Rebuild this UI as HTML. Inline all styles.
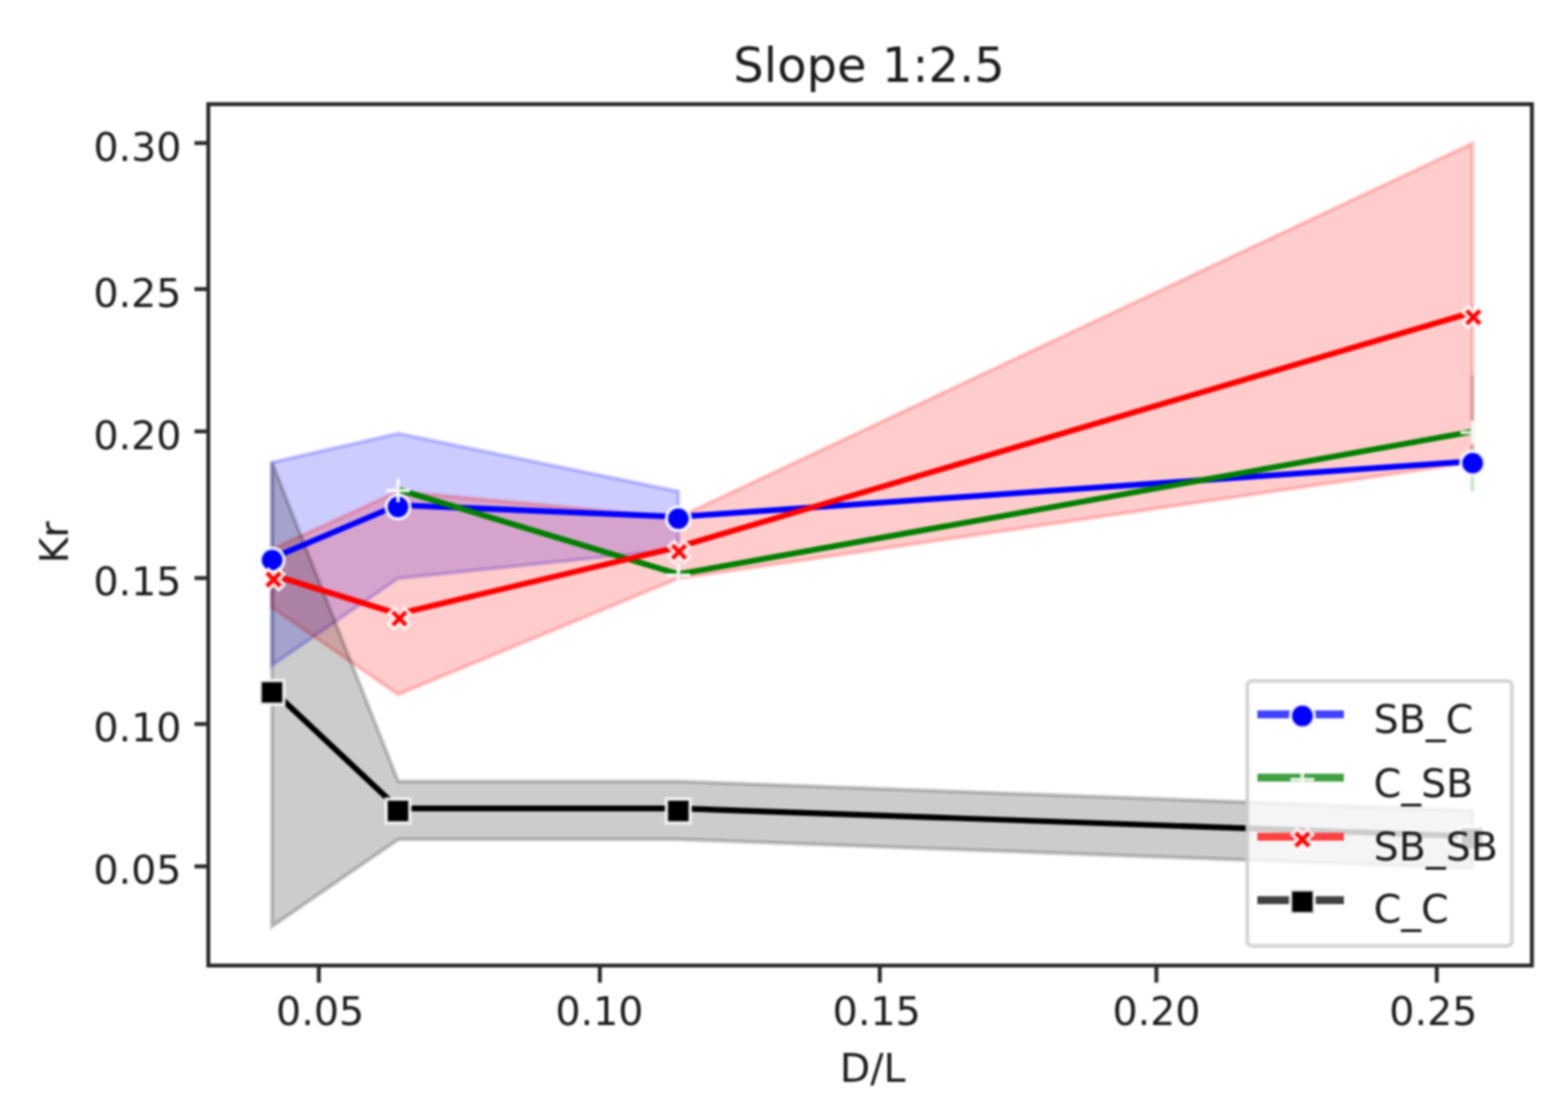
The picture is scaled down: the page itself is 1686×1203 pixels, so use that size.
<!DOCTYPE html>
<html lang="en">
<head>
<meta charset="utf-8">
<title>Slope 1:2.5</title>
<style>
html,body{margin:0;padding:0;background:#fff;}
body{width:1686px;height:1203px;overflow:hidden;}
svg{display:block;filter:blur(1.2px);}
</style>
</head>
<body>
<svg width="1686" height="1203" viewBox="0 0 1686 1203" font-family="'DejaVu Sans', 'Liberation Sans', sans-serif" font-size="42.54" fill="#1c1c1c">
<rect x="0" y="0" width="1686" height="1203" fill="#fff"/>
<g id="bands">
<polygon points="292.4,497.1 428.2,466.0 729.4,528.3 729.4,590.6 428.2,621.8 292.4,715.3" fill="#0000ff" fill-opacity="0.2" stroke="#0000ff" stroke-opacity="0.2" stroke-width="4.25" stroke-linejoin="miter"/>
<polygon points="1583.2,403.6 1583.2,403.6 1583.2,528.3 1583.2,528.3" fill="#008000" fill-opacity="0.2" stroke="#008000" stroke-opacity="0.2" stroke-width="4.25" stroke-linejoin="miter"/>
<polygon points="292.4,590.6 428.2,528.3 729.4,556.4 1583.2,154.2 1583.2,497.1 729.4,621.8 428.2,746.5 292.4,653.0" fill="#ff0000" fill-opacity="0.2" stroke="#ff0000" stroke-opacity="0.2" stroke-width="4.25" stroke-linejoin="miter"/>
<polygon points="292.4,497.1 428.2,840.0 729.4,840.0 1583.2,871.2 1583.2,933.5 729.4,902.4 428.2,902.4 292.4,995.9" fill="#000000" fill-opacity="0.2" stroke="#000000" stroke-opacity="0.2" stroke-width="4.25" stroke-linejoin="miter"/>
</g>
<g id="lines">
<polyline points="292.4,600.1 427.8,543.0 729.2,555.6 1583.3,495.9" fill="none" stroke="#0000ff" stroke-width="6.20" stroke-linejoin="round" stroke-linecap="butt"/>
<circle cx="292.6" cy="602.1" r="12.76" fill="#0000ff" stroke="#fff" stroke-opacity="0.85" stroke-width="3.70"/>
<circle cx="428.0" cy="545.0" r="12.76" fill="#0000ff" stroke="#fff" stroke-opacity="0.85" stroke-width="3.70"/>
<circle cx="729.4" cy="557.6" r="12.76" fill="#0000ff" stroke="#fff" stroke-opacity="0.85" stroke-width="3.70"/>
<circle cx="1583.5" cy="497.9" r="12.76" fill="#0000ff" stroke="#fff" stroke-opacity="0.85" stroke-width="3.70"/>
<polyline points="428.0,526.3 729.4,617.3 1583.2,464.0" fill="none" stroke="#008000" stroke-width="6.20" stroke-linejoin="round" stroke-linecap="butt"/>
<path d="M415.2 527.3H440.8M428.0 514.5V540.1" fill="none" stroke="#fff" stroke-opacity="0.9" stroke-width="3.70"/>
<path d="M716.6 618.3H742.2M729.4 605.5V631.1" fill="none" stroke="#fff" stroke-opacity="0.9" stroke-width="3.70"/>
<path d="M1570.4 465.0H1596.0M1583.2 452.2V477.8" fill="none" stroke="#fff" stroke-opacity="0.9" stroke-width="3.70"/>
<polyline points="292.7,618.0 428.0,660.0 728.7,588.2 1582.7,336.0" fill="none" stroke="#ff0000" stroke-width="6.20" stroke-linejoin="round" stroke-linecap="butt"/>
<polygon points="288.7,612.0 294.2,617.5 299.7,612.0 305.2,617.5 299.7,623.0 305.2,628.5 299.7,634.0 294.2,628.5 288.7,634.0 283.2,628.5 288.7,623.0 283.2,617.5" fill="#ff0000" stroke="#fff" stroke-opacity="0.85" stroke-width="3.70" stroke-linejoin="miter"/>
<polygon points="424.0,654.0 429.5,659.5 435.0,654.0 440.5,659.5 435.0,665.0 440.5,670.5 435.0,676.0 429.5,670.5 424.0,676.0 418.5,670.5 424.0,665.0 418.5,659.5" fill="#ff0000" stroke="#fff" stroke-opacity="0.85" stroke-width="3.70" stroke-linejoin="miter"/>
<polygon points="724.7,582.2 730.2,587.7 735.7,582.2 741.2,587.7 735.7,593.2 741.2,598.7 735.7,604.2 730.2,598.7 724.7,604.2 719.2,598.7 724.7,593.2 719.2,587.7" fill="#ff0000" stroke="#fff" stroke-opacity="0.85" stroke-width="3.70" stroke-linejoin="miter"/>
<polygon points="1578.7,330.0 1584.2,335.5 1589.7,330.0 1595.2,335.5 1589.7,341.0 1595.2,346.5 1589.7,352.0 1584.2,346.5 1578.7,352.0 1573.2,346.5 1578.7,341.0 1573.2,335.5" fill="#ff0000" stroke="#fff" stroke-opacity="0.85" stroke-width="3.70" stroke-linejoin="miter"/>
<polyline points="292.5,741.6 428.0,869.1 729.4,869.1 1582.8,899.0" fill="none" stroke="#000000" stroke-width="6.20" stroke-linejoin="round" stroke-linecap="butt"/>
<rect x="279.7" y="731.6" width="25.5" height="25.5" fill="#000000" stroke="#fff" stroke-opacity="0.85" stroke-width="3.70"/>
<rect x="415.2" y="859.1" width="25.5" height="25.5" fill="#000000" stroke="#fff" stroke-opacity="0.85" stroke-width="3.70"/>
<rect x="716.6" y="859.1" width="25.5" height="25.5" fill="#000000" stroke="#fff" stroke-opacity="0.85" stroke-width="3.70"/>
<rect x="1570.0" y="889.0" width="25.5" height="25.5" fill="#000000" stroke="#fff" stroke-opacity="0.85" stroke-width="3.70"/>
</g>
<rect x="224.0" y="112.0" width="1423.2" height="926.0" fill="none" stroke="#2b2b2b" stroke-width="4.25" stroke-linejoin="miter"/>
<g id="ticks">
<line x1="209.1" y1="931.4" x2="224.0" y2="931.4" stroke="#2b2b2b" stroke-width="4.25"/>
<text x="195.1" y="950.3" text-anchor="end">0.05</text>
<line x1="209.1" y1="778.4" x2="224.0" y2="778.4" stroke="#2b2b2b" stroke-width="4.25"/>
<text x="195.1" y="797.3" text-anchor="end">0.10</text>
<line x1="209.1" y1="621.5" x2="224.0" y2="621.5" stroke="#2b2b2b" stroke-width="4.25"/>
<text x="195.1" y="640.4" text-anchor="end">0.15</text>
<line x1="209.1" y1="463.8" x2="224.0" y2="463.8" stroke="#2b2b2b" stroke-width="4.25"/>
<text x="195.1" y="482.7" text-anchor="end">0.20</text>
<line x1="209.1" y1="310.8" x2="224.0" y2="310.8" stroke="#2b2b2b" stroke-width="4.25"/>
<text x="195.1" y="329.7" text-anchor="end">0.25</text>
<line x1="209.1" y1="153.8" x2="224.0" y2="153.8" stroke="#2b2b2b" stroke-width="4.25"/>
<text x="195.1" y="172.7" text-anchor="end">0.30</text>
<line x1="342.8" y1="1038.0" x2="342.8" y2="1056.4" stroke="#2b2b2b" stroke-width="4.25"/>
<text x="344.2" y="1102" text-anchor="middle">0.05</text>
<line x1="645.0" y1="1038.0" x2="645.0" y2="1056.4" stroke="#2b2b2b" stroke-width="4.25"/>
<text x="644.5" y="1102" text-anchor="middle">0.10</text>
<line x1="946.0" y1="1038.0" x2="946.0" y2="1056.4" stroke="#2b2b2b" stroke-width="4.25"/>
<text x="942.7" y="1102" text-anchor="middle">0.15</text>
<line x1="1243.4" y1="1038.0" x2="1243.4" y2="1056.4" stroke="#2b2b2b" stroke-width="4.25"/>
<text x="1243.5" y="1102" text-anchor="middle">0.20</text>
<line x1="1544.9" y1="1038.0" x2="1544.9" y2="1056.4" stroke="#2b2b2b" stroke-width="4.25"/>
<text x="1541.2" y="1102" text-anchor="middle">0.25</text>
</g>
<text x="938.3" y="1162.5" text-anchor="middle">D/L</text>
<text transform="translate(72.5 583.1) rotate(-90)" text-anchor="middle">Kr</text>
<text x="934.5" y="88.2" text-anchor="middle" font-size="51.6">Slope 1:2.5</text>
<g id="legend">
<rect x="1341.2" y="732" width="284.5" height="284.8" rx="5" ry="5" fill="#fff" fill-opacity="0.8" stroke="#cccccc" stroke-opacity="0.8" stroke-width="4.25"/>
<line x1="1352" y1="768.0" x2="1445" y2="768.0" stroke="#4040ff" stroke-width="8.5"/>
<circle cx="1400.4" cy="769.7" r="12.76" fill="#0000ff" stroke="#fff" stroke-opacity="0.85" stroke-width="3.70"/>
<text x="1477" y="788.3">SB_C</text>
<line x1="1352" y1="836.0" x2="1445" y2="836.0" stroke="#40a040" stroke-width="8.5"/>
<path d="M1387.6 838.0H1413.2M1400.4 825.2V850.8" fill="none" stroke="#fff" stroke-opacity="0.9" stroke-width="3.70"/>
<text x="1477" y="856.6">C_SB</text>
<line x1="1352" y1="899.4" x2="1445" y2="899.4" stroke="#ff4040" stroke-width="8.5"/>
<polygon points="1394.9,891.5 1400.4,897.0 1405.9,891.5 1411.4,897.0 1405.9,902.5 1411.4,908.0 1405.9,913.5 1400.4,908.0 1394.9,913.5 1389.4,908.0 1394.9,902.5 1389.4,897.0" fill="#ff0000" stroke="#fff" stroke-opacity="0.85" stroke-width="3.70" stroke-linejoin="miter"/>
<text x="1477" y="924.6">SB_SB</text>
<line x1="1352" y1="967.7" x2="1445" y2="967.7" stroke="#404040" stroke-width="8.5"/>
<rect x="1387.6" y="956.7" width="25.5" height="25.5" fill="#000000" stroke="#fff" stroke-opacity="0.85" stroke-width="3.70"/>
<text x="1477" y="992.4">C_C</text>
</g>
</svg>
</body>
</html>
